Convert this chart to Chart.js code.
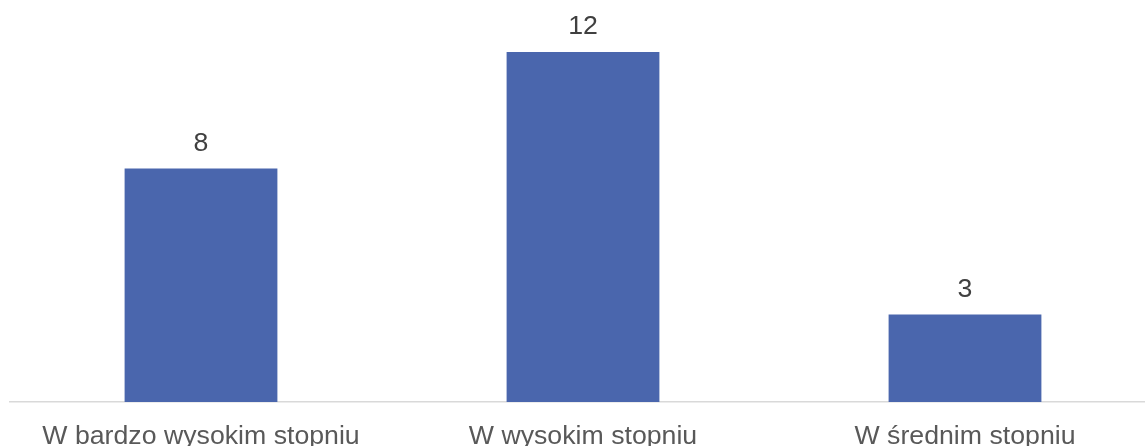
<!DOCTYPE html>
<html>
<head>
<meta charset="utf-8">
<script src="https://cdn.jsdelivr.net/npm/chart.js@4"></script>
<style>
  html, body { margin: 0; padding: 0; background: #fff; overflow: hidden; }
  #wrap { width: 1145px; height: 446px; overflow: hidden; position: relative; }
  #box { width: 1166px; height: 446px; position: absolute; left: 0; top: 0; }
</style>
</head>
<body>
<div id="wrap"><div id="box"><canvas id="chart"></canvas></div></div>
<script>
const categories = ['W bardzo wysokim stopniu', 'W wysokim stopniu', 'W średnim stopniu'];
const values = [8, 12, 3];

const fontFamily = '"Liberation Sans", Arial, sans-serif';

// value labels above each bar
const valueLabels = {
  id: 'valueLabels',
  afterDatasetsDraw(chart) {
    const ctx = chart.ctx;
    const meta = chart.getDatasetMeta(0);
    ctx.save();
    ctx.font = '26.7px ' + fontFamily;
    ctx.fillStyle = '#404040';
    ctx.textAlign = 'center';
    ctx.textBaseline = 'middle';
    meta.data.forEach((bar, i) => {
      ctx.fillText(String(values[i]), bar.x, bar.y - 25);
    });
    ctx.restore();
  }
};

new Chart(document.getElementById('chart'), {
  type: 'bar',
  data: {
    labels: categories,
    datasets: [{
      data: values,
      backgroundColor: '#4a66ad',
      barPercentage: 0.4,
      categoryPercentage: 1
    }]
  },
  options: {
    responsive: true,
    maintainAspectRatio: false,
    animation: false,
    layout: { padding: { left: 10, right: 10, top: 0, bottom: 0 } },
    plugins: { legend: { display: false }, tooltip: { enabled: false } },
    scales: {
      x: {
        grid: { display: false, drawTicks: false },
        border: { display: true, color: '#d9d9d9', width: 1.5 },
        afterFit(scale) { scale.height = 44; },
        ticks: {
          color: '#595959',
          padding: 19,
          maxRotation: 0,
          font: { family: fontFamily, size: 26.7 }
        }
      },
      y: {
        display: false,
        min: 0,
        max: 13.78
      }
    }
  },
  plugins: [valueLabels]
});
</script>
</body>
</html>
